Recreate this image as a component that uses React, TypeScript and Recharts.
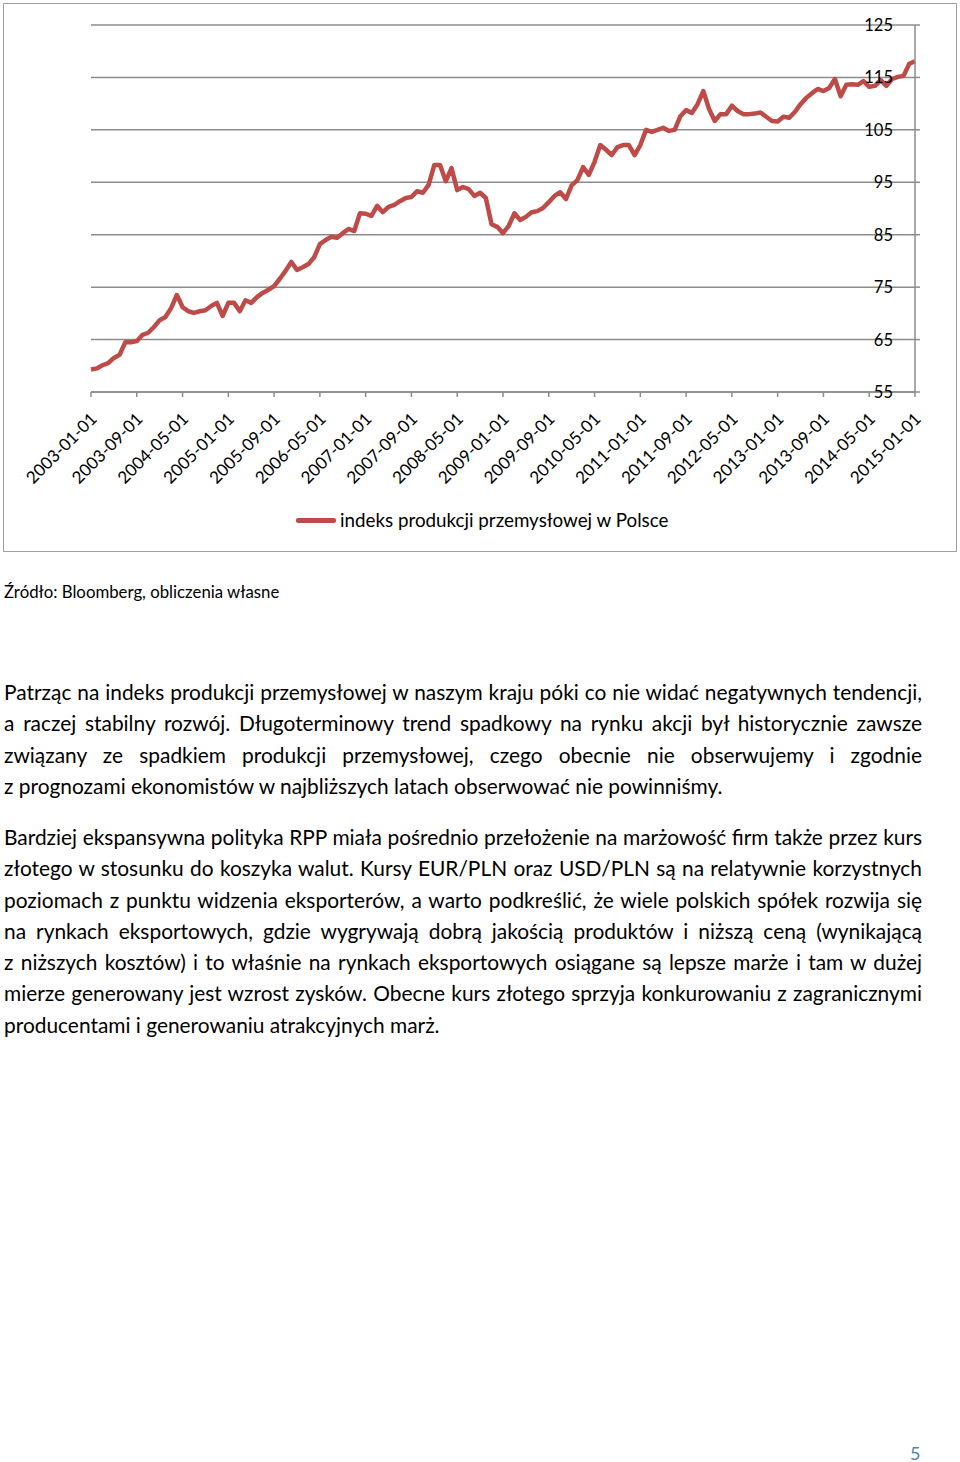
import { LineChart, Line, XAxis, YAxis, CartesianGrid } from "recharts"

// monthly values, 2003-01 .. 2015-01
const industrialIndex = [
  59.3, 59.5, 60.1, 60.5, 61.5, 62.1, 64.5, 64.5, 64.7, 65.9,
  66.3, 67.4, 68.7, 69.3, 71.0, 73.5, 71.2, 70.4, 70.1, 70.4,
  70.6, 71.4, 72.0, 69.5, 72.0, 72.0, 70.4, 72.5, 72.0, 73.1,
  73.9, 74.5, 75.2, 76.6, 78.1, 79.8, 78.3, 78.8, 79.4, 80.7,
  83.2, 84.0, 84.6, 84.4, 85.3, 86.1, 85.7, 89.1, 89.0, 88.6,
  90.5, 89.3, 90.3, 90.7, 91.4, 92.0, 92.2, 93.3, 93.0, 94.5,
  98.3, 98.3, 95.2, 97.7, 93.5, 94.1, 93.7, 92.4, 93.0, 92.0,
  87.0, 86.5, 85.3, 86.7, 89.1, 87.8, 88.4, 89.3, 89.5, 90.1,
  91.2, 92.4, 93.1, 91.8, 94.4, 95.4, 97.9, 96.4, 98.9, 102.1,
  101.2, 100.2, 101.7, 102.1, 102.1, 100.2, 102.1, 105.0, 104.6, 105.0,
  105.4, 104.8, 105.0, 107.6, 108.8, 108.2, 109.9, 112.4, 109.0, 106.7,
  108.0, 108.0, 109.6, 108.6, 108.0, 108.0, 108.1, 108.3, 107.5, 106.7,
  106.6, 107.5, 107.3, 108.4, 109.9, 111.1, 112.0, 112.8, 112.4, 113.0,
  114.7, 111.4, 113.6, 113.7, 113.6, 114.3, 113.2, 113.4, 114.5, 113.4,
  114.7, 115.1, 115.3, 117.6, 118.1,
]
const yTicks = [55, 65, 75, 85, 95, 105, 115, 125]
const seriesName = "indeks produkcji przemysłowej w Polsce"
const firstYear = 2003

const sourceText = "Źródło: Bloomberg, obliczenia własne"
const paragraph1 = [
  "Patrząc na indeks produkcji przemysłowej w naszym kraju póki co nie widać negatywnych tendencji,",
  "a raczej stabilny rozwój. Długoterminowy trend spadkowy na rynku akcji był historycznie zawsze",
  "związany ze spadkiem produkcji przemysłowej, czego obecnie nie obserwujemy i zgodnie",
  "z prognozami ekonomistów w najbliższych latach obserwować nie powinniśmy.",
]
const paragraph2 = [
  "Bardziej ekspansywna polityka RPP miała pośrednio przełożenie na marżowość firm także przez kurs",
  "złotego w stosunku do koszyka walut. Kursy EUR/PLN oraz USD/PLN są na relatywnie korzystnych",
  "poziomach z punktu widzenia eksporterów, a warto podkreślić, że wiele polskich spółek rozwija się",
  "na rynkach eksportowych, gdzie wygrywają dobrą jakością produktów i niższą ceną (wynikającą",
  "z niższych kosztów) i to właśnie na rynkach eksportowych osiągane są lepsze marże i tam w dużej",
  "mierze generowany jest wzrost zysków. Obecne kurs złotego sprzyja konkurowaniu z zagranicznymi",
  "producentami i generowaniu atrakcyjnych marż.",
]

const chartData = industrialIndex.map((value, i) => ({
  date: `${firstYear + Math.floor(i / 12)}-${String((i % 12) + 1).padStart(2, "0")}-01`,
  value,
}))

const FONT = "Lato, 'Open Sans', sans-serif"
const GRID = "#8c8c8c"

function XTick({ x, y, payload }: any) {
  const ax = x + 7
  const ay = y + 23
  return (
    <text
      x={ax}
      y={ay}
      transform={`rotate(-45 ${ax} ${ay})`}
      textAnchor="end"
      fontSize={17}
      fontFamily={FONT}
      fill="#000"
    >
      {payload.value}
    </text>
  )
}

function YTick({ x, y, payload }: any) {
  return (
    <text x={x - 27} y={y} dy={6} textAnchor="end" fontSize={16.5} fontFamily={FONT} fill="#000">
      {payload.value}
    </text>
  )
}

function Paragraph({ lines, top }: { lines: string[]; top: number }) {
  return (
    <div style={{ position: "absolute", left: 4, top, width: 918 }}>
      {lines.map((line, i) => {
        const last = i === lines.length - 1
        return (
          <div
            key={i}
            style={{
              textAlign: last ? "left" : "justify",
              textAlignLast: last ? "left" : "justify",
              height: 31.3,
              lineHeight: "31.3px",
            }}
          >
            {line}
          </div>
        )
      })}
    </div>
  )
}

export default function App() {
  return (
    <div style={{ position: "absolute", left: 0, top: 0, width: 960, height: 1462, fontFamily: FONT, color: "#000", background: "#fff" }}>
      <div
        style={{
          position: "absolute",
          left: 3,
          top: 3,
          width: 954,
          height: 549,
          border: "1.5px solid #a0a0a0",
          boxSizing: "border-box",
        }}
      />
      <div style={{ position: "absolute", left: 0, top: 0 }}>
        <LineChart width={960} height={560} data={chartData} margin={{ top: 25, right: 5, bottom: 68, left: 91 }}>
          <CartesianGrid vertical={false} stroke={GRID} strokeWidth={1.5} />
          <XAxis
            dataKey="date"
            interval={7}
            height={100}
            tickSize={5}
            tickMargin={0}
            stroke={GRID}
            strokeWidth={1.5}
            tick={<XTick />}
          />
          <YAxis
            orientation="right"
            width={40}
            domain={[55, 125]}
            ticks={yTicks}
            tickSize={5}
            tickMargin={0}
            stroke={GRID}
            strokeWidth={1.5}
            tick={<YTick />}
          />
          <Line
            type="linear"
            dataKey="value"
            name={seriesName}
            stroke="#be4b48"
            strokeWidth={4.5}
            strokeLinejoin="round"
            dot={false}
            isAnimationActive={false}
          />
        </LineChart>
      </div>
      <div style={{ position: "absolute", left: 296, top: 508, height: 24, display: "flex", alignItems: "center", fontSize: 18.8 }}>
        <span style={{ display: "inline-block", width: 40, height: 5, background: "#be4b48", borderRadius: 2, marginRight: 4 }} />
        <span style={{ lineHeight: "24px" }}>{seriesName}</span>
      </div>
      <div style={{ position: "absolute", left: 4, top: 580, fontSize: 16.8, lineHeight: "24px" }}>{sourceText}</div>
      <div style={{ fontSize: 20.9 }}>
        <Paragraph lines={paragraph1} top={676} />
        <Paragraph lines={paragraph2} top={821} />
      </div>
      <div style={{ position: "absolute", left: 910, top: 1441, fontSize: 18, lineHeight: "24px", color: "#4f81bd" }}>5</div>
    </div>
  )
}
